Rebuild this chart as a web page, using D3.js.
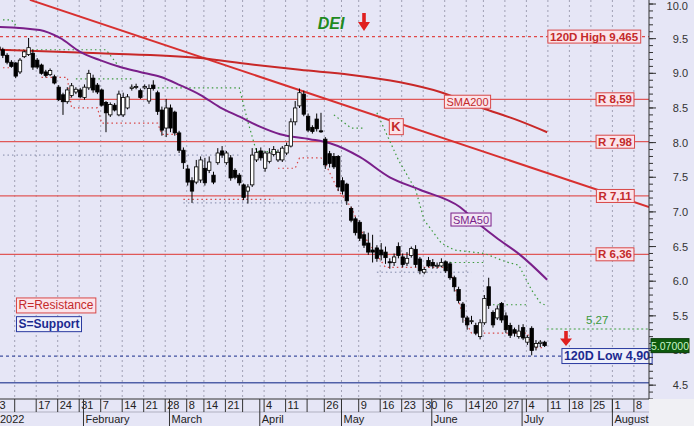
<!DOCTYPE html>
<html><head><meta charset="utf-8">
<script src="https://cdn.jsdelivr.net/npm/d3@7"></script>
<style>
body{margin:0;background:#e6e6f6;}
svg{display:block;font-family:"Liberation Sans",Arial,sans-serif;}
</style>
</head><body>
<svg id="c" width="694" height="426"></svg>
<script>
// ---- data (trading-day index = array position) ----
const opens  =[9.38,9.34,9.26,9.16,9.15,9.02,9.24,9.27,9.29,9.19,9.12,9.02,8.98,8.95,8.80,8.69,8.59,8.68,8.73,8.76,8.65,8.79,8.93,8.83,8.76,8.58,8.40,8.54,8.40,8.40,8.50,8.78,8.80,8.75,8.79,8.60,8.83,8.72,8.47,8.21,8.50,8.44,8.14,7.89,7.62,7.45,7.43,7.46,7.63,7.60,7.53,7.71,7.88,7.71,7.78,7.60,7.53,7.39,7.30,7.39,7.75,7.88,7.63,7.73,7.83,7.75,7.75,7.85,7.95,8.30,8.53,8.70,8.38,8.22,8.34,8.17,8.05,7.84,7.80,7.80,7.45,7.40,7.05,6.90,6.85,6.67,6.55,6.45,6.48,6.45,6.42,6.28,6.27,6.50,6.35,6.26,6.37,6.46,6.32,6.13,6.30,6.27,6.22,6.22,6.28,6.25,6.05,5.88,5.67,5.47,5.42,5.36,5.20,5.40,5.92,5.55,5.47,5.68,5.50,5.36,5.30,5.20,5.33,5.12,5.32,5.05,5.10,5.12];
const highs  =[9.42,9.37,9.29,9.19,9.16,9.22,9.33,9.51,9.34,9.22,9.14,9.05,9.07,8.98,8.83,8.72,8.80,8.86,8.80,8.79,8.84,9.05,8.98,8.86,8.78,8.60,8.58,8.57,8.75,8.72,8.70,8.84,8.85,8.78,8.84,8.84,8.90,8.75,8.52,8.63,8.55,8.46,8.17,7.93,7.68,7.50,7.75,7.80,7.78,7.80,7.58,7.92,7.95,7.88,7.82,7.63,7.56,7.41,7.40,7.92,7.92,7.93,7.88,7.92,7.95,7.90,7.95,8.00,8.35,8.60,8.78,8.75,8.42,8.25,8.42,8.43,8.08,7.88,7.85,7.82,7.50,7.42,7.08,6.93,6.88,6.72,6.70,6.67,6.52,6.55,6.50,6.33,6.40,6.56,6.40,6.42,6.50,6.52,6.35,6.20,6.35,6.32,6.27,6.33,6.30,6.28,6.08,5.92,5.70,5.50,5.50,5.40,5.45,5.80,6.05,5.58,5.65,5.70,5.55,5.40,5.33,5.37,5.38,5.22,5.35,5.15,5.15,5.14];
const lows   =[9.30,9.22,9.13,9.08,8.93,8.99,9.22,9.25,9.05,9.06,8.98,8.94,8.96,8.84,8.60,8.40,8.56,8.65,8.70,8.64,8.62,8.76,8.72,8.70,8.52,8.15,8.37,8.45,8.38,8.37,8.48,8.75,8.77,8.63,8.77,8.56,8.75,8.40,8.10,8.08,8.15,8.10,7.85,7.62,7.38,7.13,7.40,7.42,7.38,7.56,7.40,7.68,7.78,7.68,7.45,7.47,7.38,7.17,7.12,7.36,7.72,7.74,7.58,7.70,7.80,7.72,7.72,7.82,7.93,8.25,8.50,8.38,8.15,8.13,8.16,8.14,7.62,7.64,7.62,7.30,7.25,7.10,6.85,6.66,6.58,6.48,6.38,6.27,6.28,6.30,6.25,6.18,6.22,6.33,6.20,6.22,6.34,6.20,6.10,6.10,6.20,6.18,6.18,6.20,6.12,6.02,5.85,5.68,5.40,5.30,5.38,5.22,5.16,5.37,5.60,5.33,5.44,5.40,5.25,5.18,5.20,5.17,5.15,5.08,4.93,5.00,5.05,5.05];
const closes =[9.34,9.26,9.16,9.10,8.96,9.19,9.31,9.37,9.09,9.09,9.00,8.97,9.04,8.86,8.62,8.59,8.76,8.82,8.77,8.66,8.80,9.00,8.76,8.73,8.54,8.43,8.55,8.47,8.70,8.65,8.66,8.80,8.81,8.65,8.81,8.78,8.78,8.45,8.18,8.50,8.21,8.14,7.89,7.71,7.43,7.30,7.65,7.75,7.42,7.72,7.43,7.85,7.82,7.85,7.49,7.50,7.42,7.21,7.36,7.82,7.86,7.78,7.85,7.85,7.90,7.86,7.92,7.96,8.30,8.50,8.72,8.41,8.18,8.16,8.20,8.16,7.68,7.70,7.65,7.36,7.30,7.16,6.88,6.70,6.62,6.52,6.42,6.42,6.33,6.38,6.34,6.27,6.35,6.37,6.24,6.33,6.47,6.24,6.15,6.17,6.22,6.22,6.23,6.27,6.15,6.05,5.92,5.72,5.48,5.37,5.43,5.25,5.40,5.75,5.65,5.37,5.60,5.44,5.30,5.22,5.25,5.28,5.18,5.19,5.00,5.10,5.12,5.07];

const weekIdx    =[0,4,9,14,19,24,29,34,39,44,48,53,57,62,67,72,76,80,84,89,94,99,104,109,113,118,123,128,133,138,143,148];
const weekLabels =["3","","17","24","31","7","14","21","28","8","14","21","","4","11","","26","","9","16","23","30","6","14","20","27","4","11","18","25","1","8"];
const monthIdx   =[0,20,40,61,80,101,122,143];
const monthLabels=["2022","February","March","April","May","June","July","August"];
const yTicks     =[4.5,5.0,5.5,6.0,6.5,7.0,7.5,8.0,8.5,9.0,9.5,10.0];

const sma50 =[[0.35,9.67],[9.6,9.625],[14.3,9.51],[19,9.31],[23.6,9.19],[28.3,9.09],[32.9,9.02],[37.6,8.95],[42.2,8.83],[46.9,8.69],[51.5,8.51],[56.2,8.37],[60.8,8.23],[65.5,8.12],[72.4,8.05],[77.1,7.99],[84.1,7.79],[91,7.50],[98,7.32],[107.3,7.07],[112,6.81],[116.6,6.59],[121.3,6.38],[127.6,6.02]];
const sma200=[[0.35,9.34],[23.6,9.29],[46.9,9.22],[58.5,9.13],[70.1,9.05],[81.7,8.98],[93.4,8.87],[102.7,8.73],[112,8.51],[121.3,8.31],[127.6,8.15]];
const trendK=[[7.3,10.06],[151.3,7.07]];

const resistLevels=[8.625,8.013,7.23,6.388];
const resistLabels=["R 8,59","R 7,98","R 7,11","R 6,36"];
const high120=9.53, high120Label="120D High 9,465";
const low120=4.92, low120Label="120D Low 4,90";
const supportLevel=4.535;
const level527=5.31, level527Label="5,27";
const lastPrice=5.07, lastLabel="5.07000";

const upperBand=[
 [[0,9.77],[3,9.77],[5,9.62]],
 [[1.5,9.34],[25,9.34],[28,9.10]],
 [[18,8.92],[31,8.92]],
 [[36,8.79],[56,8.79],[58,8.30],[60,7.87],[67,7.87]],
 [[78,8.40],[82,8.21],[85,8.21]],
 [[88,8.43],[93,7.75],[97,7.32],[99,6.88],[103,6.55],[106,6.45],[113,6.40],[118,6.28],[121,6.23],[124,5.87],[126,5.69],[127,5.66]],
 [[104,6.27],[113,6.27]],
 [[115,5.66],[123,5.66]]
];
const lowerBand=[
 [[0,9.08],[3,9.08]],
 [[10,8.94],[16,8.94],[17,8.50],[23,8.50],[24,8.28],[37,8.28],[38,8.12],[42,8.12]],
 [[43,7.18],[64,7.18]],
 [[65,7.63],[69,7.63],[70,7.78],[75,7.78],[76,7.70],[79,7.31],[82,7.07],[85,6.65],[88,6.38],[90,6.20],[105,6.20],[106,5.95],[108,5.50],[110,5.25],[123,5.25],[124,5.04],[127,5.04]]
];
const supportDotted=[[[0,7.82],[56,7.82]],[[43,7.13],[81,7.13]],[[88,6.13],[110,6.13]]];

// ---- layout ----
const W=694,H=426, PR=649, PB=399;
const svg=d3.select("#c");
const x=d3.scaleLinear().domain([0.35,151.28]).range([0,PR]);
const y=d3.scaleLinear().domain([4.30,10.058]).range([PB,0]);
const line=d3.line().x(d=>x(d[0])).y(d=>y(d[1]));
const curve=d3.line().x(d=>x(d[0])).y(d=>y(d[1])).curve(d3.curveMonotoneX);

svg.append("rect").attr("width",W).attr("height",H).attr("fill","#e6e6f6");
svg.append("defs").append("clipPath").attr("id","pc").append("rect").attr("width",PR).attr("height",PB);
const g=svg.append("g").attr("clip-path","url(#pc)");

// vertical grid
g.selectAll("line.vg").data(weekIdx).join("line")
 .attr("x1",d=>x(d)-1).attr("x2",d=>x(d)-1).attr("y1",0).attr("y2",PB)
 .attr("stroke","#a0a0b4").attr("stroke-width",1).attr("stroke-dasharray","2,3");

// support dotted (blue-grey)
supportDotted.forEach(s=>g.append("path").attr("d",line(s)).attr("fill","none")
 .attr("stroke","#8088a8").attr("stroke-width",1).attr("stroke-dasharray","1.5,3"));

// resistance lines
g.selectAll("line.r").data(resistLevels).join("line")
 .attr("x1",0).attr("x2",PR).attr("y1",d=>y(d)).attr("y2",d=>y(d))
 .attr("stroke","#e05858").attr("stroke-width",1.3);
// 120D high dashed
g.append("line").attr("x1",0).attr("x2",PR).attr("y1",y(high120)).attr("y2",y(high120))
 .attr("stroke","#e04848").attr("stroke-width",1.2).attr("stroke-dasharray","3,3");
// 120D low dashed blue
g.append("line").attr("x1",0).attr("x2",PR).attr("y1",y(low120)).attr("y2",y(low120))
 .attr("stroke","#4050a0").attr("stroke-width",1.2).attr("stroke-dasharray","3,3");
// support solid blue
g.append("line").attr("x1",0).attr("x2",PR).attr("y1",y(supportLevel)).attr("y2",y(supportLevel))
 .attr("stroke","#5060a8").attr("stroke-width",1.5);
// 5.27 green dotted
g.append("line").attr("x1",x(127.5)).attr("x2",PR).attr("y1",y(level527)).attr("y2",y(level527))
 .attr("stroke","#40a040").attr("stroke-width",1).attr("stroke-dasharray","2,2.5");

// bands
upperBand.forEach(s=>g.append("path").attr("d",line(s)).attr("fill","none")
 .attr("stroke","#3c9a3c").attr("stroke-width",1.2).attr("stroke-dasharray","1.5,3"));
lowerBand.forEach(s=>g.append("path").attr("d",line(s)).attr("fill","none")
 .attr("stroke","#d84848").attr("stroke-width",1.2).attr("stroke-dasharray","1.5,3"));

// trend line and SMAs
g.append("path").attr("d",line(trendK)).attr("fill","none").attr("stroke","#d83030").attr("stroke-width",2);
g.append("path").attr("d",curve(sma200)).attr("fill","none").attr("stroke","#c82828").attr("stroke-width",2);
g.append("path").attr("d",curve(sma50)).attr("fill","none").attr("stroke","#7a1f8a").attr("stroke-width",2);

// candles
const idx=d3.range(opens.length);
const bw=3.4;
g.selectAll("line.wk").data(idx).join("line")
 .attr("x1",i=>x(i)).attr("x2",i=>x(i)).attr("y1",i=>y(highs[i])).attr("y2",i=>y(lows[i]))
 .attr("stroke","#000").attr("stroke-width",1);
g.selectAll("rect.bd").data(idx).join("rect")
 .attr("x",i=>x(i)-bw/2).attr("width",bw)
 .attr("y",i=>y(Math.max(opens[i],closes[i])))
 .attr("height",i=>Math.max(1,Math.abs(y(opens[i])-y(closes[i]))))
 .attr("fill",i=>closes[i]>=opens[i]?"#ffffff":"#000000")
 .attr("stroke","#000").attr("stroke-width",0.8);

// ---- labels ----
function box(cx,cy,text,opt){
  const t=svg.append("text").attr("x",cx).attr("y",cy).attr("text-anchor","middle")
   .attr("dominant-baseline","central").attr("font-size",opt.size||11)
   .attr("font-weight",opt.bold?"bold":"normal").attr("font-style",opt.italic?"italic":"normal")
   .attr("fill",opt.color).text(text);
  const b=t.node().getBBox();
  svg.insert("rect",()=>t.node()).attr("x",b.x-2).attr("y",b.y-0.5).attr("width",b.width+4).attr("height",b.height+1)
   .attr("fill",opt.fill).attr("stroke",opt.stroke).attr("stroke-width",1);
}
resistLevels.forEach((v,i)=>box(615,y(v),resistLabels[i],{color:"#c42a2a",fill:"#fbe4ea",stroke:"#d84848",bold:true,size:11.5}));
box(594,y(high120),high120Label,{color:"#c42a2a",fill:"#fbe4ea",stroke:"#d84848",bold:true,size:11.5});
box(607,y(low120),low120Label,{color:"#1c2a90",fill:"#eef0fb",stroke:"#2a3aa0",bold:true,size:12.5});
box(467.5,y(8.59),"SMA200",{color:"#c42a2a",fill:"#fbe4ea",stroke:"#d84848",size:11});
box(471,y(6.89),"SMA50",{color:"#7a1f8a",fill:"#f2e6f4",stroke:"#7a1f8a",size:11});
box(396,y(8.23),"K",{color:"#c42a2a",fill:"#fbe4ea",stroke:"#d84848",bold:true,size:13});
box(56,y(5.65),"R=Resistance",{color:"#c42a2a",fill:"#fbe4ea",stroke:"#d84848",size:12});
box(49,y(5.38),"S=Support",{color:"#1c2a90",fill:"#eef0fb",stroke:"#2a3aa0",bold:true,size:12});

svg.append("text").attr("x",586).attr("y",y(level527)-5).attr("font-size",11.5).attr("fill","#3c9a3c").text(level527Label);
svg.append("text").attr("x",331).attr("y",29).attr("text-anchor","middle").attr("font-size",16)
 .attr("font-weight","bold").attr("font-style","italic").attr("fill","#1f8a1f").text("DEI");

function arrow(cx,top,h){
  const p=d3.path();
  p.moveTo(cx-1.8,top);p.lineTo(cx+1.8,top);p.lineTo(cx+1.8,top+h*0.5);p.lineTo(cx+6,top+h*0.5);
  p.lineTo(cx,top+h);p.lineTo(cx-6,top+h*0.5);p.lineTo(cx-1.8,top+h*0.5);p.closePath();
  svg.append("path").attr("d",p.toString()).attr("fill","#e02020");
}
arrow(364,13,18);
arrow(566,331,15);

// ---- right axis ----
svg.append("line").attr("x1",PR).attr("x2",PR).attr("y1",0).attr("y2",PB).attr("stroke","#333").attr("stroke-width",1);
const minor=d3.range(43,101).map(d=>d/10);
svg.selectAll("line.mn").data(minor).join("line")
 .attr("x1",PR).attr("x2",PR+4).attr("y1",d=>y(d)).attr("y2",d=>y(d)).attr("stroke","#333");
svg.selectAll("line.mj").data(yTicks).join("line")
 .attr("x1",PR).attr("x2",PR+7).attr("y1",d=>y(d)).attr("y2",d=>y(d)).attr("stroke","#333");
svg.selectAll("text.yl").data(yTicks).join("text")
 .attr("x",688).attr("y",d=>Math.max(6,y(d))).attr("text-anchor","end").attr("dominant-baseline","central")
 .attr("font-size",11).attr("fill","#333").text(d3.format(".1f"));

// last price label (covers the 5.0 tick label, as in the original)
svg.append("rect").attr("x",651).attr("y",y(lastPrice)-7).attr("width",38).attr("height",14).attr("fill","#0e5a0e").attr("stroke","#0a3a0a");
svg.append("text").attr("x",670).attr("y",y(lastPrice)).attr("text-anchor","middle").attr("dominant-baseline","central")
 .attr("font-size",10.5).attr("fill","#c8f5c8").text(lastLabel);

// ---- bottom axis ----
svg.append("rect").attr("x",PR).attr("y",PB).attr("width",W-PR).attr("height",H-PB).attr("fill","#f0f0f4");
svg.append("line").attr("x1",0).attr("x2",PR).attr("y1",PB).attr("y2",PB).attr("stroke","#333");
svg.append("line").attr("x1",0).attr("x2",PR).attr("y1",412).attr("y2",412).attr("stroke","#b0b0c0");
svg.selectAll("line.ws").data(weekIdx).join("line")
 .attr("x1",d=>x(d)-1).attr("x2",d=>x(d)-1).attr("y1",PB).attr("y2",412).attr("stroke","#333");
svg.selectAll("text.wl").data(weekIdx).join("text")
 .attr("x",d=>x(d)+1).attr("y",409).attr("font-size",11).attr("fill","#222").text((d,i)=>weekLabels[i]);
svg.selectAll("line.ms").data(monthIdx.slice(1)).join("line")
 .attr("x1",d=>x(d)-1).attr("x2",d=>x(d)-1).attr("y1",PB).attr("y2",H).attr("stroke","#333");
svg.selectAll("text.ml").data(monthIdx).join("text")
 .attr("x",(d,i)=>i===0?0:x(d)+1).attr("y",423).attr("font-size",11).attr("fill","#222").text((d,i)=>monthLabels[i]);
</script>
</body></html>
